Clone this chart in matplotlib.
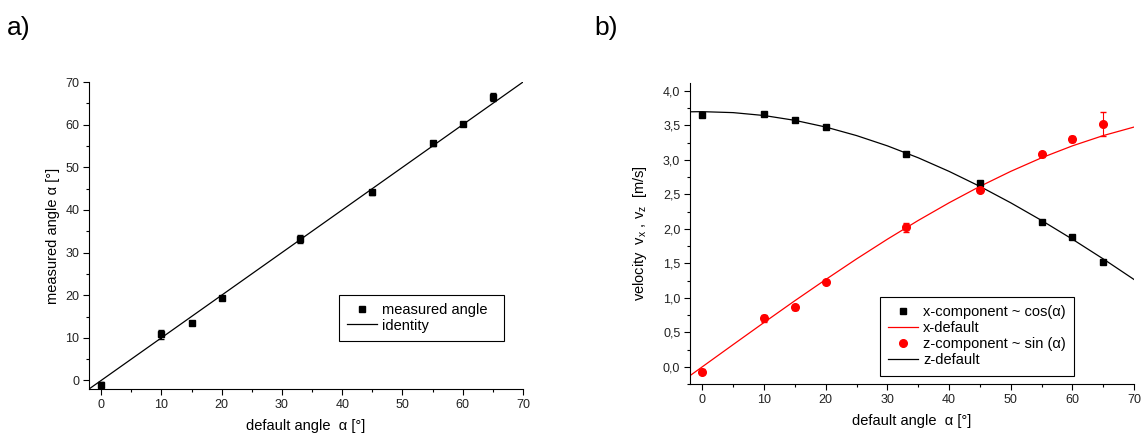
"""
Two-panel figure: measured vs default angle (a) and velocity components (b).
"""
import matplotlib
matplotlib.use('Agg')
import matplotlib.pyplot as plt
from matplotlib.lines import Line2D
from matplotlib.ticker import MultipleLocator, FuncFormatter

plt.rcParams['font.family'] = ['Liberation Sans', 'DejaVu Sans']
plt.rcParams['mathtext.default'] = 'regular'

# ── Data ──────────────────────────────────────────────────────
angle_set      = [0, 10, 15, 20, 33, 45, 55, 60, 65]
angle_measured = [-1.1, 10.8, 13.4, 19.4, 33.2, 44.1, 55.6, 60.2, 66.5]
angle_err      = [0.8, 1.0, 0.5, 0.5, 1.0, 0.5, 0.5, 0.5, 1.0]
identity_x     = [-2, 70]
identity_y     = [-2, 70]

vx      = [3.65, 3.66, 3.58, 3.48, 3.09, 2.66, 2.10, 1.88, 1.52]
vx_err  = [0.03, 0.03, 0.03, 0.03, 0.03, 0.04, 0.03, 0.03, 0.03]
vz      = [-0.07, 0.70, 0.86, 1.23, 2.02, 2.57, 3.08, 3.30, 3.52]
vz_err  = [0.04, 0.05, 0.03, 0.03, 0.07, 0.04, 0.04, 0.04, 0.18]

curve_x  = [-2, 0, 5, 10, 15, 20, 25, 30, 35, 40, 45, 50, 55, 60, 65, 70]
curve_vx = [3.698, 3.700, 3.686, 3.644, 3.574, 3.477, 3.353, 3.204, 3.031,
            2.834, 2.616, 2.378, 2.122, 1.850, 1.564, 1.265]
curve_vz = [-0.129, 0.000, 0.322, 0.642, 0.958, 1.265, 1.564, 1.850, 2.122,
            2.378, 2.616, 2.834, 3.031, 3.204, 3.353, 3.477]

FS_TICK  = 9
FS_LABEL = 10.5
FS_LEG   = 10.5


def style_axes(ax):
    ax.spines['top'].set_visible(False)
    ax.spines['right'].set_visible(False)
    for s in ('left', 'bottom'):
        ax.spines[s].set_linewidth(0.8)
    ax.tick_params(which='major', direction='out', length=4.5, width=0.8,
                   pad=2.5, labelsize=FS_TICK, labelcolor='#222222')
    ax.tick_params(which='minor', direction='out', length=2.5, width=0.8)


def make_legend(ax, handles, labels, x, y, spacing):
    leg = ax.legend(handles, labels, loc='upper left', bbox_to_anchor=(x, y),
                    fontsize=FS_LEG, frameon=True, fancybox=False,
                    edgecolor='black', framealpha=1, handlelength=2.05,
                    handletextpad=0.35, borderpad=0.55, labelspacing=spacing,
                    borderaxespad=0)
    leg.get_frame().set_linewidth(0.8)
    return leg


fig = plt.figure(figsize=(11.43, 4.33), dpi=100)

# ── Panel a ───────────────────────────────────────────────────
ax1 = fig.add_axes([0.0779, 0.1016, 0.3797, 0.709])
ax1.plot(identity_x, identity_y, '-', color='black', lw=0.9)
ax1.errorbar(angle_set, angle_measured, yerr=angle_err, fmt='s', color='black',
             ms=5, elinewidth=0.8, capsize=2)
ax1.set_xlim(-2, 70)
ax1.set_ylim(-2, 70)
ax1.xaxis.set_major_locator(MultipleLocator(10))
ax1.xaxis.set_minor_locator(MultipleLocator(5))
ax1.yaxis.set_major_locator(MultipleLocator(10))
ax1.yaxis.set_minor_locator(MultipleLocator(5))
style_axes(ax1)
ax1.set_xlabel('default angle  α [°]', fontsize=FS_LABEL, labelpad=6)
ax1.set_ylabel('measured angle α [°]', fontsize=FS_LABEL, labelpad=4)
make_legend(ax1,
            [Line2D([], [], ls='none', marker='s', ms=5, color='black'),
             Line2D([], [], color='black', lw=0.9)],
            ['measured angle  ', 'identity'], 0.576, 0.306, 0.1)
fig.text(0.006, 0.935, 'a)', fontsize=19, va='center')

# ── Panel b ───────────────────────────────────────────────────
ax2 = fig.add_axes([0.6037, 0.1132, 0.3885, 0.6958])
ax2.plot(curve_x, curve_vz, '-', color='red', lw=0.9)
ax2.plot(curve_x, curve_vx, '-', color='black', lw=0.9)
ax2.errorbar(angle_set, vx, yerr=vx_err, fmt='s', color='black', ms=5,
             elinewidth=0.8, capsize=2)
ax2.errorbar(angle_set, vz, yerr=vz_err, fmt='o', color='red', ms=5.5,
             elinewidth=0.8, capsize=2)
ax2.set_xlim(-2, 70)
ax2.set_ylim(-0.25, 4.12)
ax2.xaxis.set_major_locator(MultipleLocator(10))
ax2.xaxis.set_minor_locator(MultipleLocator(5))
ax2.yaxis.set_major_locator(MultipleLocator(0.5))
ax2.yaxis.set_minor_locator(MultipleLocator(0.25))
ax2.yaxis.set_major_formatter(FuncFormatter(lambda v, p: f'{v:.1f}'.replace('.', ',')))
style_axes(ax2)
ax2.set_xlabel('default angle  α [°]', fontsize=FS_LABEL, labelpad=6)
ax2.set_ylabel('velocity  v$_x$ , v$_z$  [m/s]', fontsize=FS_LABEL, labelpad=10)
make_legend(ax2,
            [Line2D([], [], ls='none', marker='s', ms=5, color='black'),
             Line2D([], [], color='red', lw=0.9),
             Line2D([], [], ls='none', marker='o', ms=5.5, color='red'),
             Line2D([], [], color='black', lw=0.9)],
            ['x-component ~ cos(α)', 'x-default',
             'z-component ~ sin (α)', 'z-default'], 0.428, 0.289, 0.15)
fig.text(0.52, 0.935, 'b)', fontsize=19, va='center')

fig.savefig('out.png', dpi=100)
